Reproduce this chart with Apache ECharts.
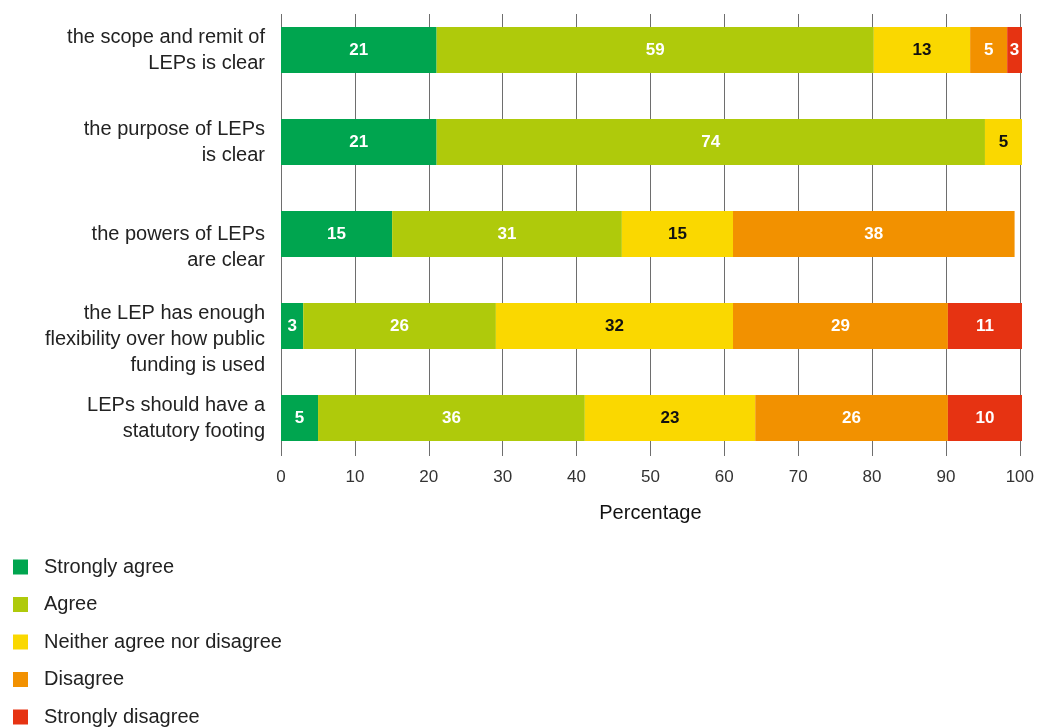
<!DOCTYPE html>
<html>
<head>
<meta charset="utf-8">
<title>Views on LEPs</title>
<script src="https://cdn.jsdelivr.net/npm/echarts@6/dist/echarts.min.js"></script>
<style>
  html, body { margin: 0; padding: 0; background: #fff; }
  #chart { width: 1037px; height: 727px; }
</style>
</head>
<body>
<div id="chart"></div>
<script>
// Survey statements (top to bottom)
const statements = [
  'the scope and remit of\nLEPs is clear',
  'the purpose of LEPs\nis clear',
  'the powers of LEPs\nare clear',
  'the LEP has enough\nflexibility over how public\nfunding is used',
  'LEPs should have a\nstatutory footing'
];

// Response shares (%) per statement
const stronglyAgree    = [21, 21, 15, 3, 5];
const agree            = [59, 74, 31, 26, 36];
const neither          = [13, 5, 15, 32, 23];
const disagree         = [5, null, 38, 29, 26];
const stronglyDisagree = [3, null, null, 11, 10];

const responseNames = [
  'Strongly agree',
  'Agree',
  'Neither agree nor disagree',
  'Disagree',
  'Strongly disagree'
];

const xTicks = [0, 10, 20, 30, 40, 50, 60, 70, 80, 90, 100];

const colours = ['#00a54f', '#afca0b', '#fad800', '#f29100', '#e63312'];
const labelColours = ['#ffffff', '#ffffff', '#111111', '#ffffff', '#ffffff'];
const seriesData = [stronglyAgree, agree, neither, disagree, stronglyDisagree];

const FONT = '"Liberation Sans", Arial, sans-serif';

// Rows whose text block sits lower than the bar centre get a leading blank line
const labelShift = [0, 0, 1, 1, 0];

const chart = echarts.init(document.getElementById('chart'), null, { renderer: 'canvas' });

const option = {
  animation: false,
  backgroundColor: '#ffffff',
  textStyle: { fontFamily: FONT },
  legend: {
    orient: 'vertical',
    left: 8,
    top: 552,
    height: 175,
    itemWidth: 15,
    itemHeight: 15,
    itemGap: 17.5,
    icon: 'rect',
    data: responseNames,
    textStyle: { fontFamily: FONT, fontSize: 20, color: '#222', padding: [0, 0, 0, 11] }
  },
  grid: [
    // gridlines and x scale
    { left: 281, right: 15, top: 14, height: 442, containLabel: false },
    // bars
    { left: 281, right: 15, top: 4, height: 460, containLabel: false }
  ],
  xAxis: [
    {
      gridIndex: 0,
      type: 'value',
      min: xTicks[0],
      max: xTicks[xTicks.length - 1],
      interval: 10,
      axisLine: { show: false },
      axisTick: { show: false },
      splitLine: { show: true, lineStyle: { color: '#6e6e6e', width: 1 } },
      axisLabel: { fontFamily: FONT, fontSize: 17, color: '#333', margin: 13 },
      name: 'Percentage',
      nameLocation: 'middle',
      nameGap: 47,
      nameTextStyle: { fontFamily: FONT, fontSize: 20, color: '#111' }
    },
    {
      gridIndex: 1,
      type: 'value',
      min: 0,
      max: 100,
      show: false
    }
  ],
  yAxis: [
    {
      gridIndex: 0,
      type: 'category',
      data: statements,
      show: false
    },
    {
      gridIndex: 1,
      type: 'category',
      inverse: true,
      data: statements,
      axisLine: { show: false },
      axisTick: { show: false },
      splitLine: { show: false },
      axisLabel: {
        fontFamily: FONT,
        fontSize: 20,
        lineHeight: 26,
        color: '#222',
        margin: 16,
        align: 'right',
        formatter: (v, i) => '\n'.repeat(labelShift[i]) + v
      }
    }
  ],
  series: responseNames.map((name, k) => ({
    name: name,
    type: 'bar',
    stack: 'total',
    xAxisIndex: 1,
    yAxisIndex: 1,
    barWidth: 46,
    clip: true,
    data: seriesData[k],
    itemStyle: { color: colours[k] },
    label: {
      show: true,
      position: 'inside',
      fontFamily: FONT,
      fontSize: 17,
      fontWeight: 'bold',
      color: labelColours[k],
      formatter: p => (p.value == null ? '' : String(p.value))
    }
  }))
};

chart.setOption(option);
</script>
</body>
</html>
